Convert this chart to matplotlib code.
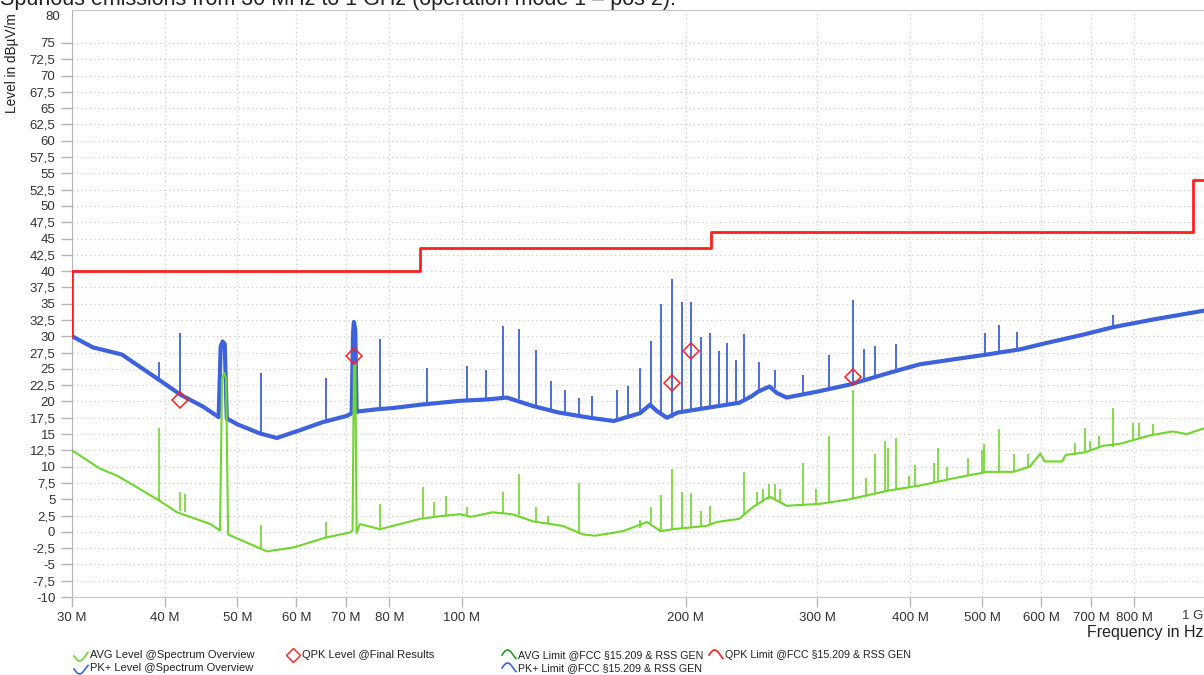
import numpy as np
import matplotlib
matplotlib.use("Agg")
import matplotlib.pyplot as plt
from matplotlib.lines import Line2D
from matplotlib.ticker import FixedLocator, NullLocator

plt.rcParams['font.family'] = ['Liberation Sans', 'DejaVu Sans']

# frequencies in MHz, levels in dBµV/m

# PK+ trace, smooth floor incl. the two broad carriers at 48 M and 72 M
pk_freq = [30, 32, 35, 39.4, 42, 45, 47.2, 47.5, 47.8, 48.1,
           48.4, 50, 53.6, 56.5, 60.7, 65, 70.2, 71.2, 71.5, 71.7,
           72.0, 72.3, 73, 77, 80.9, 88, 93.6, 99.5, 108, 115,
           124.7, 135, 148.7, 160, 173.6, 179, 183, 188.7, 195, 213,
           236, 245, 250, 259, 265, 273, 300, 332, 370, 412,
           460, 507, 562, 611, 680, 749, 850, 1000]
pk_level = [30.0, 28.3, 27.2, 23.2, 21.0, 19.2, 17.6, 28.5, 29.2, 28.8,
            17.4, 16.5, 15.1, 14.4, 15.6, 16.8, 17.8, 18.2, 30.5, 32.2,
            31.0, 18.4, 18.5, 18.8, 19.0, 19.5, 19.8, 20.1, 20.3, 20.6,
            19.3, 18.3, 17.5, 17.0, 18.2, 19.5, 18.5, 17.5, 18.3, 19.0,
            19.8, 20.8, 21.5, 22.3, 21.3, 20.6, 21.5, 22.6, 24.2, 25.7,
            26.5, 27.2, 28.0, 29.0, 30.2, 31.4, 32.6, 34.0]

# PK+ narrow spikes: frequency, floor under it, peak
pk_spike_freq = [39.3, 41.9, 53.8, 65.7, 77.7, 89.9, 101.7, 107.9, 113.7, 119.4,
                 125.9, 131.9, 137.6, 143.7, 149.7, 161.7, 167.3, 173.5, 179.6, 185.2,
                 191.6, 197.8, 203.2, 209.6, 215.5, 221.6, 227.1, 233.6, 239.4, 250.9,
                 263.5, 287, 311.4, 335.5, 347, 359, 383, 504, 526, 557, 749]
pk_spike_base = [23.3, 21.2, 15.0, 16.8, 18.8, 19.5, 20.1, 20.3, 20.6, 20.4,
                 19.2, 18.8, 18.3, 17.8, 17.5, 17.1, 17.5, 18.2, 19.3, 18.0,
                 17.5, 18.2, 18.5, 18.8, 19.0, 19.2, 19.4, 19.6, 19.9, 21.3,
                 22.0, 21.2, 22.0, 22.8, 23.2, 23.5, 24.3, 27.2, 27.5, 28.0, 31.4]
pk_spike_top = [26.0, 30.5, 24.4, 23.6, 29.6, 25.1, 25.5, 24.8, 31.6, 31.1,
                27.9, 23.2, 21.7, 20.6, 20.9, 21.7, 22.4, 25.2, 29.3, 35.0,
                38.8, 35.3, 35.2, 29.9, 30.5, 27.7, 28.9, 26.3, 30.3, 26.0,
                24.8, 24.0, 27.1, 35.6, 28.0, 28.5, 28.8, 30.5, 31.7, 30.6, 33.3]

# AVG trace floor
avg_freq = [30, 32.7, 34.5, 35.6, 39.4, 41.5, 46, 47.4, 47.7, 48.0,
            48.3, 48.6, 50.4, 54.8, 59.5, 65.6, 70.8, 71.4, 71.7, 72.0,
            72.3, 73, 77.7, 82.7, 88, 93.6, 99.5, 103, 110, 117,
            124.7, 136.8, 145.5, 151, 164.7, 177.4, 185, 192, 213, 220,
            236, 246, 259, 273, 303, 332, 373, 412, 457, 507,
            550, 579, 598, 606, 640, 647, 687, 726, 765, 840,
            900, 940, 1000]
avg_level = [12.5, 9.7, 8.6, 7.7, 4.7, 3.0, 1.2, 0.2, 23.5, 24.4,
             23.5, -0.4, -1.2, -3.0, -2.4, -0.9, -0.1, 0.2, 25.5, 25.8,
             -0.2, 1.2, 0.4, 1.2, 2.0, 2.4, 2.7, 2.3, 3.0, 2.7,
             1.6, 0.9, -0.4, -0.6, 0.1, 1.5, 0.1, 0.4, 0.9, 1.5,
             2.0, 3.8, 5.4, 4.0, 4.3, 5.0, 6.3, 7.1, 8.2, 9.2,
             9.2, 10.0, 12.0, 10.8, 10.8, 11.8, 12.2, 13.2, 13.5, 14.8,
             15.4, 15.0, 16.0]

avg_spike_freq = [39.3, 41.9, 42.5, 53.8, 65.7, 77.7, 88.7, 91.9, 95.4, 101.7,
                  113.7, 119.4, 125.9, 130.6, 143.7, 173.5, 179.6, 185.2, 191.6, 197.8,
                  203.2, 209.6, 215.5, 239.4, 249.4, 253.9, 259, 263.5, 267.6, 287,
                  299, 311.4, 335.5, 349, 359, 370, 373, 383, 399, 406,
                  431, 436, 448, 479, 500, 503, 526, 551, 576, 666,
                  687, 697, 717, 749, 797, 811, 847]
avg_spike_base = [4.7, 3.2, 3.0, -2.7, -1.0, 0.5, 2.0, 2.2, 2.4, 2.3,
                  2.9, 2.6, 1.6, 1.4, -0.3, 0.6, 1.4, 0.2, 0.4, 0.6,
                  0.7, 0.8, 1.0, 2.8, 4.0, 4.5, 5.0, 5.0, 4.5, 4.0,
                  4.2, 4.4, 5.0, 5.4, 5.8, 6.2, 6.3, 6.5, 6.8, 7.0,
                  7.6, 7.7, 8.0, 8.6, 9.0, 9.1, 9.2, 9.3, 9.8, 11.8,
                  12.2, 12.4, 12.8, 13.0, 14.0, 14.3, 14.9]
avg_spike_top = [15.9, 6.1, 5.8, 1.0, 1.5, 4.3, 6.9, 4.6, 5.5, 3.8,
                 6.1, 8.8, 3.8, 2.4, 7.5, 1.8, 3.8, 5.7, 9.6, 6.1,
                 6.0, 3.2, 4.0, 9.2, 6.1, 6.6, 7.4, 7.4, 6.6, 10.6,
                 6.6, 14.7, 21.7, 8.2, 12.0, 13.9, 12.8, 14.4, 8.5, 10.2,
                 10.6, 12.9, 10.0, 11.4, 12.5, 13.4, 15.8, 11.9, 11.9, 13.6,
                 15.9, 13.9, 14.7, 19.0, 16.7, 16.7, 16.5]

# QPK final results
qpk_freq = [41.9, 71.7, 191.6, 203.2, 335.5]
qpk_level = [20.2, 27.0, 22.8, 27.7, 23.8]

# QPK limit FCC 15.209 / RSS-GEN (step line)
lim_freq = [30, 30, 88, 88, 216, 216, 960, 960, 1000]
lim_level = [30, 40, 40, 43.5, 43.5, 46, 46, 54, 54]

xticks = [30, 40, 50, 60, 70, 80, 100, 200, 300, 400, 500, 600, 700, 800, 1000]
xtick_labels = ['30 M', '40 M', '50 M', '60 M', '70 M', '80 M', '100 M', '200 M',
                '300 M', '400 M', '500 M', '600 M', '700 M', '800 M', '']
yticks = np.arange(-10, 75.1, 2.5)

BLUE = '#3d62dc'
LGREEN = '#6fd62c'
DGREEN = '#1f9e1f'
RED = '#ff1f1f'
GREY = '#b4b4b4'
TXT = '#333333'

W, H = 1204, 675
fig = plt.figure(figsize=(W / 100, H / 100), dpi=100)
ax = fig.add_axes([72 / W, 1 - 597 / H, (1206.6 - 72) / W, (597 - 10.4) / H])

ax.plot(pk_freq, pk_level, color=BLUE, lw=3.0, zorder=3)
ax.vlines(pk_spike_freq, pk_spike_base, pk_spike_top, color=BLUE, lw=1.3, zorder=3)
ax.plot(avg_freq, avg_level, color=LGREEN, lw=1.5, zorder=4)
ax.vlines(avg_spike_freq, avg_spike_base, avg_spike_top, color=LGREEN, lw=1.2, zorder=4)
ax.plot(lim_freq, lim_level, color=RED, lw=2.0, zorder=5)
ax.plot(qpk_freq, qpk_level, ls='none', marker='D', ms=8, mfc='none', mec=RED,
        mew=1.1, zorder=6)

ax.set_xscale('log')
ax.set_xlim(30, 1000)
ax.set_ylim(-10, 80)
ax.xaxis.set_major_locator(FixedLocator(xticks))
ax.xaxis.set_minor_locator(NullLocator())
ax.set_xticklabels(xtick_labels)
ax.set_yticks(yticks)
ax.set_yticklabels([('%g' % v).replace('.', ',') for v in yticks])
ax.tick_params(axis='both', colors=GREY, labelcolor=TXT, labelsize=9.5, width=1)
ax.tick_params(axis='x', length=7, pad=4)
ax.tick_params(axis='y', length=8, pad=4)
ax.grid(True, color='#cccccc', ls=(0, (1, 2.5)), lw=0.9)
for s in ax.spines.values():
    s.set_color('#c8c8c8')
ax.spines['left'].set_color(GREY)

# end labels sit pulled inside the frame, as in the source software
fig.text(60 / W, 1 - 17 / H, '80', fontsize=9.5, va='center', ha='right', color=TXT)
fig.text(1203 / W, 1 - 616 / H, '1 G', fontsize=9.5, va='center', ha='right', color=TXT)

fig.text(0.0, 1 - 5 / H, 'Spurious emissions from 30 MHz to 1 GHz (operation mode 1 \u2013 pos 2).',
         fontsize=15.5, va='baseline', ha='left', color='#222222')
fig.text(12 / W, 1 - 13 / H, 'Level in dBµV/m', rotation=90, fontsize=9.8,
         va='top', ha='center', color='#222222')
fig.text(1203 / W, 1 - 633 / H, 'Frequency in Hz', fontsize=11.5,
         va='center', ha='right', color='#222222')


# legend, drawn in figure pixels
def icon(x0, y0, color, hill):
    t = np.linspace(0, 1, 25)
    shape = np.sin(np.pi * 1.25 * t) if hill else -np.sin(np.pi * 1.25 * t)
    fig.add_artist(Line2D(x0 + 14 * t, H - (y0 - 5 * shape), color=color, lw=1.2,
                          transform=None))


def entry(x0, y0, label, size=8):
    fig.text((x0 + 16) / W, 1 - y0 / H, label, fontsize=size, va='center', ha='left',
             color='#222222')


icon(74, 656, LGREEN, False)
entry(74, 655, 'AVG Level @Spectrum Overview')
icon(74, 669, BLUE, False)
entry(74, 668, 'PK+ Level @Spectrum Overview')
fig.add_artist(Line2D([293], [H - 655], marker='D', ms=7, mfc='none', mec=RED,
                      mew=1.0, transform=None))
entry(286, 655, 'QPK Level @Final Results')
icon(502, 655, DGREEN, True)
entry(502, 655, 'AVG Limit @FCC §15.209 & RSS GEN', 7.7)
icon(709, 655, RED, True)
entry(709, 655, 'QPK Limit @FCC §15.209 & RSS GEN', 7.7)
icon(502, 668, BLUE, True)
entry(502, 668, 'PK+ Limit @FCC §15.209 & RSS GEN', 7.7)

fig.savefig('out.png', dpi=100)
